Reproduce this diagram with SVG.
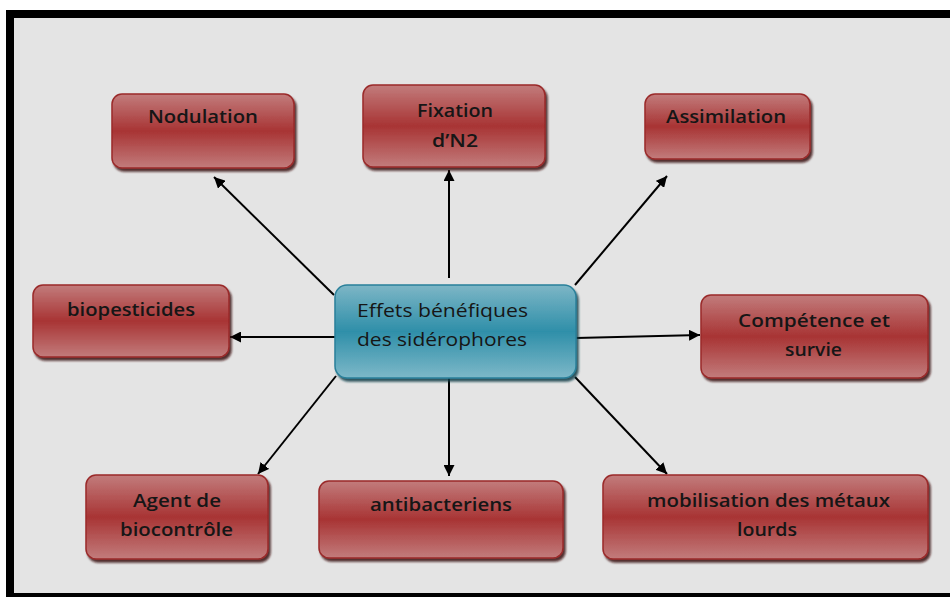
<svg xmlns="http://www.w3.org/2000/svg" width="950" height="597" viewBox="0 0 950 597">
<defs>
<linearGradient id="red" x1="0" y1="0" x2="0" y2="1">
<stop offset="0" stop-color="#c27c7c"/>
<stop offset="0.5" stop-color="#a83434"/>
<stop offset="1" stop-color="#c27c7c"/>
</linearGradient>
<linearGradient id="blue" x1="0" y1="0" x2="0" y2="1">
<stop offset="0" stop-color="#7db6c6"/>
<stop offset="0.5" stop-color="#2f8fa9"/>
<stop offset="1" stop-color="#7db8c8"/>
</linearGradient>
<filter id="sh" x="-10%" y="-10%" width="130%" height="140%">
<feDropShadow dx="2" dy="3" stdDeviation="1" flood-color="#3a0808" flood-opacity="0.85"/>
</filter>
<filter id="shb" x="-10%" y="-10%" width="130%" height="140%">
<feDropShadow dx="2" dy="3" stdDeviation="1" flood-color="#0b3c4a" flood-opacity="0.85"/>
</filter>
<marker id="ah" viewBox="0 0 10 10" refX="10" refY="5" markerWidth="11" markerHeight="11" markerUnits="userSpaceOnUse" orient="auto">
<path d="M0,0 L10,5 L0,10 z" fill="#000"/>
</marker>
</defs>
<style>
.r{fill:url(#red);stroke:#9a2a2a;stroke-width:1.5;filter:url(#sh)}
.b{fill:url(#blue);stroke:#2a809a;stroke-width:1.5;filter:url(#shb)}
text{font-family:"Open Sans","DejaVu Sans",sans-serif;font-size:18px;font-weight:600;fill:#161616}
.n{font-weight:400;font-size:19px}
.e{stroke:#000;stroke-width:2;fill:none;marker-end:url(#ah)}
</style>
<rect x="0" y="0" width="950" height="597" fill="#fff"/>
<rect x="6" y="10" width="944" height="587" fill="#000"/>
<rect x="14" y="18" width="936" height="575" fill="#e4e4e4"/>
<g id="connectors">
<line class="e" x1="334" y1="295" x2="214" y2="177"/>
<line class="e" x1="449" y1="278" x2="449" y2="170"/>
<line class="e" x1="575" y1="285" x2="667" y2="176"/>
<line class="e" x1="335" y1="337" x2="230" y2="337"/>
<line class="e" x1="576" y1="338" x2="700" y2="335"/>
<line class="e" x1="336" y1="376" x2="258" y2="474"/>
<line class="e" x1="449" y1="378" x2="449" y2="476"/>
<line class="e" x1="575" y1="377" x2="667" y2="474"/>
</g>
<g id="center">
<rect class="b" x="335" y="285" width="241" height="93" rx="12"/>
<text class="n" x="357" y="317" textLength="171" lengthAdjust="spacingAndGlyphs">Effets bénéfiques</text>
<text class="n" x="357" y="346" textLength="170" lengthAdjust="spacingAndGlyphs">des sidérophores</text>
</g>
<g id="nodulation">
<rect class="r" x="112" y="94" width="182" height="74" rx="10"/>
<text x="148" y="123" textLength="110" lengthAdjust="spacingAndGlyphs">Nodulation</text>
</g>
<g id="fixation">
<rect class="r" x="363" y="85" width="182" height="82" rx="10"/>
<text x="417" y="117" textLength="76" lengthAdjust="spacingAndGlyphs">Fixation</text>
<text x="432" y="147" textLength="46" lengthAdjust="spacingAndGlyphs">d’N2</text>
</g>
<g id="assimilation">
<rect class="r" x="645" y="94" width="165" height="65" rx="10"/>
<text x="666" y="123" textLength="120" lengthAdjust="spacingAndGlyphs">Assimilation</text>
</g>
<g id="biopesticides">
<rect class="r" x="33" y="285" width="196" height="72" rx="10"/>
<text x="67" y="316" textLength="128" lengthAdjust="spacingAndGlyphs">biopesticides</text>
</g>
<g id="competence">
<rect class="r" x="701" y="295" width="227" height="83" rx="10"/>
<text x="738" y="327" textLength="152" lengthAdjust="spacingAndGlyphs">Compétence et</text>
<text x="785" y="356" textLength="57" lengthAdjust="spacingAndGlyphs">survie</text>
</g>
<g id="agent">
<rect class="r" x="86" y="475" width="182" height="84" rx="10"/>
<text x="133" y="507" textLength="88" lengthAdjust="spacingAndGlyphs">Agent de</text>
<text x="120" y="536" textLength="113" lengthAdjust="spacingAndGlyphs">biocontrôle</text>
</g>
<g id="antibacteriens">
<rect class="r" x="319" y="481" width="244" height="77" rx="10"/>
<text x="370" y="511" textLength="142" lengthAdjust="spacingAndGlyphs">antibacteriens</text>
</g>
<g id="mobilisation">
<rect class="r" x="603" y="475" width="325" height="84" rx="10"/>
<text x="647" y="507" textLength="243" lengthAdjust="spacingAndGlyphs">mobilisation des métaux</text>
<text x="737" y="536" textLength="60" lengthAdjust="spacingAndGlyphs">lourds</text>
</g>
</svg>
